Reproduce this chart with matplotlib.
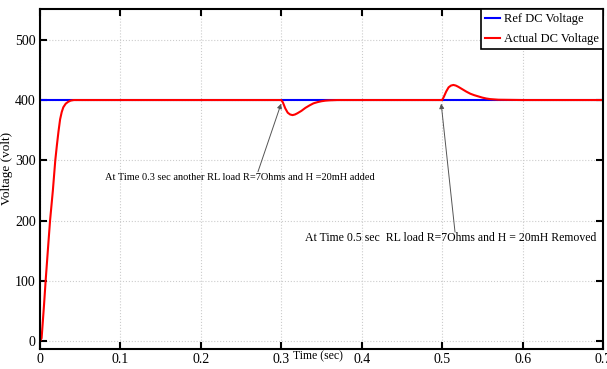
import matplotlib
matplotlib.use("Agg")
import matplotlib.pyplot as plt

plt.rcParams['font.family'] = ['Liberation Serif', 'DejaVu Serif']

# Data
ref_t = [0.0, 0.7]
ref_v = [400, 400]

act_t = [0, 0.002, 0.005, 0.007, 0.010, 0.0125, 0.016, 0.019, 0.021, 0.023, 0.025,
         0.027, 0.029, 0.032, 0.035, 0.038, 0.042, 0.05, 0.1, 0.2, 0.3, 0.302,
         0.305, 0.308, 0.311, 0.314, 0.317, 0.32, 0.325, 0.33, 0.335, 0.34, 0.345,
         0.35, 0.355, 0.36, 0.37, 0.4, 0.5, 0.502, 0.505, 0.508, 0.511, 0.514,
         0.517, 0.52, 0.525, 0.53, 0.535, 0.54, 0.545, 0.55, 0.555, 0.56, 0.57,
         0.6, 0.7]
act_v = [0, 5, 60, 100, 155, 200, 250, 300, 325, 348, 368,
         380, 388, 394, 397, 399, 400, 400, 400, 400, 400, 396,
         386, 379, 376, 375, 376, 378, 382, 387, 391, 394.5, 396.5,
         398, 399, 399.5, 400, 400, 400, 405, 414, 421, 424, 425,
         424, 422, 418, 414, 410.5, 408, 406, 404, 402.5, 401.5, 400.5,
         400, 400]

xticks = [0, 0.1, 0.2, 0.3, 0.4, 0.5, 0.6, 0.7]
xtick_labels = ['0', '0.1', '0.2', '0.3', '0.4', '0.5', '0.6', '0.7']
yticks = [0, 100, 200, 300, 400, 500]
ytick_labels = ['0', '100', '200', '300', '400', '500']

note1 = "At Time 0.3 sec another RL load R=7Ohms and H =20mH added"
note2 = "At Time 0.5 sec  RL load R=7Ohms and H = 20mH Removed"

fig = plt.figure(figsize=(6.07, 3.69), dpi=100)
ax = fig.add_axes([40/607, 1-349/369, 563/607, 340/369])

ax.plot(ref_t, ref_v, color='#0000ff', lw=1.5, label='Ref DC Voltage')
ax.plot(act_t, act_v, color='#ff0000', lw=1.5, label='Actual DC Voltage')

ax.set_xlim(0, 0.7)
ax.set_ylim(-13, 551)
ax.set_xticks(xticks)
ax.set_xticklabels(xtick_labels)
ax.set_yticks(yticks)
ax.set_yticklabels(ytick_labels)
ax.tick_params(direction='in', length=5, width=1.5, top=True, right=True,
               labelsize=10, pad=3)
ax.grid(True, color='#cccccc', linestyle=':', linewidth=0.8)
for s in ax.spines.values():
    s.set_linewidth(1.5)

ax.set_xlabel('Time (sec)', fontsize=8.5)
ax.xaxis.set_label_coords(0.494, -0.022)
ax.xaxis.label.set_va('center')
ax.set_ylabel('Voltage (volt)', fontsize=9.5)
ax.yaxis.set_label_coords(-0.058, 0.532)
ax.yaxis.label.set_va('center')

leg = ax.legend(loc='upper right', borderaxespad=0, fancybox=False,
                edgecolor='black', framealpha=1, fontsize=9, handlelength=1.2,
                handletextpad=0.3, borderpad=0.35, labelspacing=0.6)
leg.get_frame().set_linewidth(1.2)

ax.text(0.081, 270.8, note1, fontsize=7.5, va='center', ha='left')
ax.text(0.3296, 171, note2, fontsize=8.5, va='center', ha='left')
ap = dict(arrowstyle='-|>', color='#555555', lw=0.7, mutation_scale=7,
          shrinkA=0, shrinkB=0)
ax.annotate('', xy=(0.2998, 394), xytext=(0.271, 281), arrowprops=ap)
ax.annotate('', xy=(0.4988, 394), xytext=(0.516, 181), arrowprops=ap)

fig.savefig('out.png', dpi=100)
